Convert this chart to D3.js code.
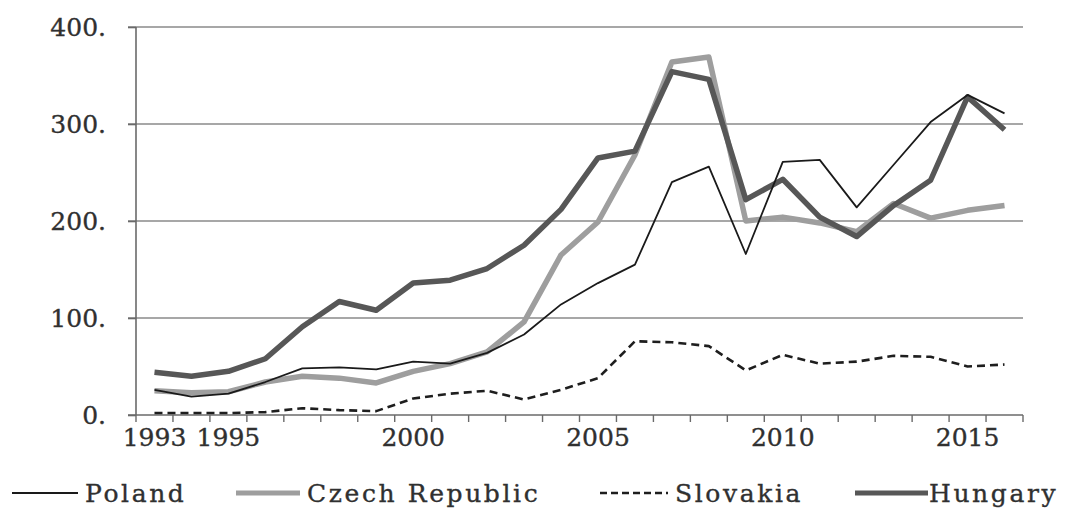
<!DOCTYPE html>
<html><head><meta charset="utf-8">
<script src="https://cdn.jsdelivr.net/npm/d3@7"></script>
<style>
html,body{margin:0;padding:0;background:#fff;}
svg text{font-family:"DejaVu Serif",serif;fill:#303030;stroke:#303030;stroke-width:0.35px;}
</style></head>
<body><svg id="c" width="1076" height="508"></svg>
<script>
const years = d3.range(1993, 2017);
const poland = [26,19,22,34,48,49,47,55,53,64,83,114,136,155,240,256,166,261,263,214,258,302,330,311];
const czech = [25,23,24,34,40,38,33,45,53,65,96,165,199,268,364,369,200,204,198,189,218,203,211,216];
const slovakia = [2,2,2,3,7,5,4,17,22,25,16,26,38,76,75,71,46,62,53,55,61,60,50,52];
const hungary = [44,40,45,58,91,117,108,136,139,151,175,212,265,272,354,346,222,243,204,184,216,242,328,294];
const yTicks = [0,100,200,300,400];
const xLabels = [1993,1995,2000,2005,2010,2015];
const seriesNames = ["Poland","Czech Republic","Slovakia","Hungary"];

const svg = d3.select("#c");
const x = d3.scaleBand().domain(years).range([136, 1023]);
const y = d3.scaleLinear().domain([0,400]).range([415, 27]);

// gridlines
svg.append("g").selectAll("line").data(yTicks.filter(d=>d>0)).join("line")
  .attr("x1",128).attr("x2",1023).attr("y1",d=>y(d)).attr("y2",d=>y(d))
  .attr("stroke","#8a8a8a").attr("stroke-width",1.6);

// y axis
const ya = svg.append("g").attr("transform","translate(136,0)")
  .call(d3.axisLeft(y).tickValues(yTicks).tickSize(8).tickFormat(d=>d+"."));
ya.select(".domain").attr("stroke","#6a6a6a").attr("stroke-width",1.6).attr("d","M0,"+y(400)+"V"+y(0));
ya.selectAll(".tick line").attr("stroke","#6a6a6a").attr("stroke-width",1.6);
ya.selectAll(".tick text").attr("x",-30).attr("dy","0.35em").attr("font-size",25).attr("fill","#303030");

// x axis
const xa = svg.append("g").attr("transform","translate(0,415)")
  .call(d3.axisBottom(x).tickValues(years).tickSize(0).tickFormat(d=>xLabels.includes(d)?d:""));
xa.select(".domain").attr("stroke","#6a6a6a").attr("stroke-width",1.6).attr("d","M128,0H1023");
xa.selectAll(".tick text").attr("y",28).attr("dy","0.1em").attr("font-size",25).attr("fill","#303030");
// boundary ticks
const bounds = years.map(d=>x(d)).concat([x(2016)+x.bandwidth()]);
svg.append("g").selectAll("line").data(bounds).join("line")
  .attr("x1",d=>d).attr("x2",d=>d).attr("y1",415).attr("y2",422)
  .attr("stroke","#6a6a6a").attr("stroke-width",1.4);

const line = d3.line().x((d,i)=>x(years[i])+x.bandwidth()/2).y(d=>y(d));
const styles = {
  "Czech Republic":{data:czech,color:"#9e9e9e",w:5.5,dash:null},
  "Hungary":{data:hungary,color:"#575757",w:5.5,dash:null},
  "Slovakia":{data:slovakia,color:"#1e1e1e",w:2.6,dash:"8,5"},
  "Poland":{data:poland,color:"#1a1a1a",w:1.8,dash:null}
};
["Czech Republic","Hungary","Slovakia","Poland"].forEach(n=>{
  const s=styles[n];
  svg.append("path").attr("d",line(s.data)).attr("fill","none")
    .attr("stroke",s.color).attr("stroke-width",s.w).attr("stroke-linejoin","round")
    .attr("stroke-dasharray",s.dash);
});

// legend
const legX = [{n:"Poland",x1:12,x2:78,tx:85},{n:"Czech Republic",x1:236,x2:300,tx:307},
              {n:"Slovakia",x1:600,x2:668,tx:675},{n:"Hungary",x1:855,x2:928,tx:929}];
const lg = svg.append("g");
legX.forEach(l=>{
  const s=styles[l.n];
  lg.append("line").attr("x1",l.x1).attr("x2",l.x2).attr("y1",493).attr("y2",493)
    .attr("stroke",s.color).attr("stroke-width",l.n==="Poland"?2:s.w===5.5?5:2.4).attr("stroke-dasharray",l.n==="Slovakia"?"7,4":null);
  lg.append("text").attr("x",l.tx).attr("y",502).attr("font-size",25).attr("letter-spacing","2.6px").text(l.n);
});
</script></body></html>
